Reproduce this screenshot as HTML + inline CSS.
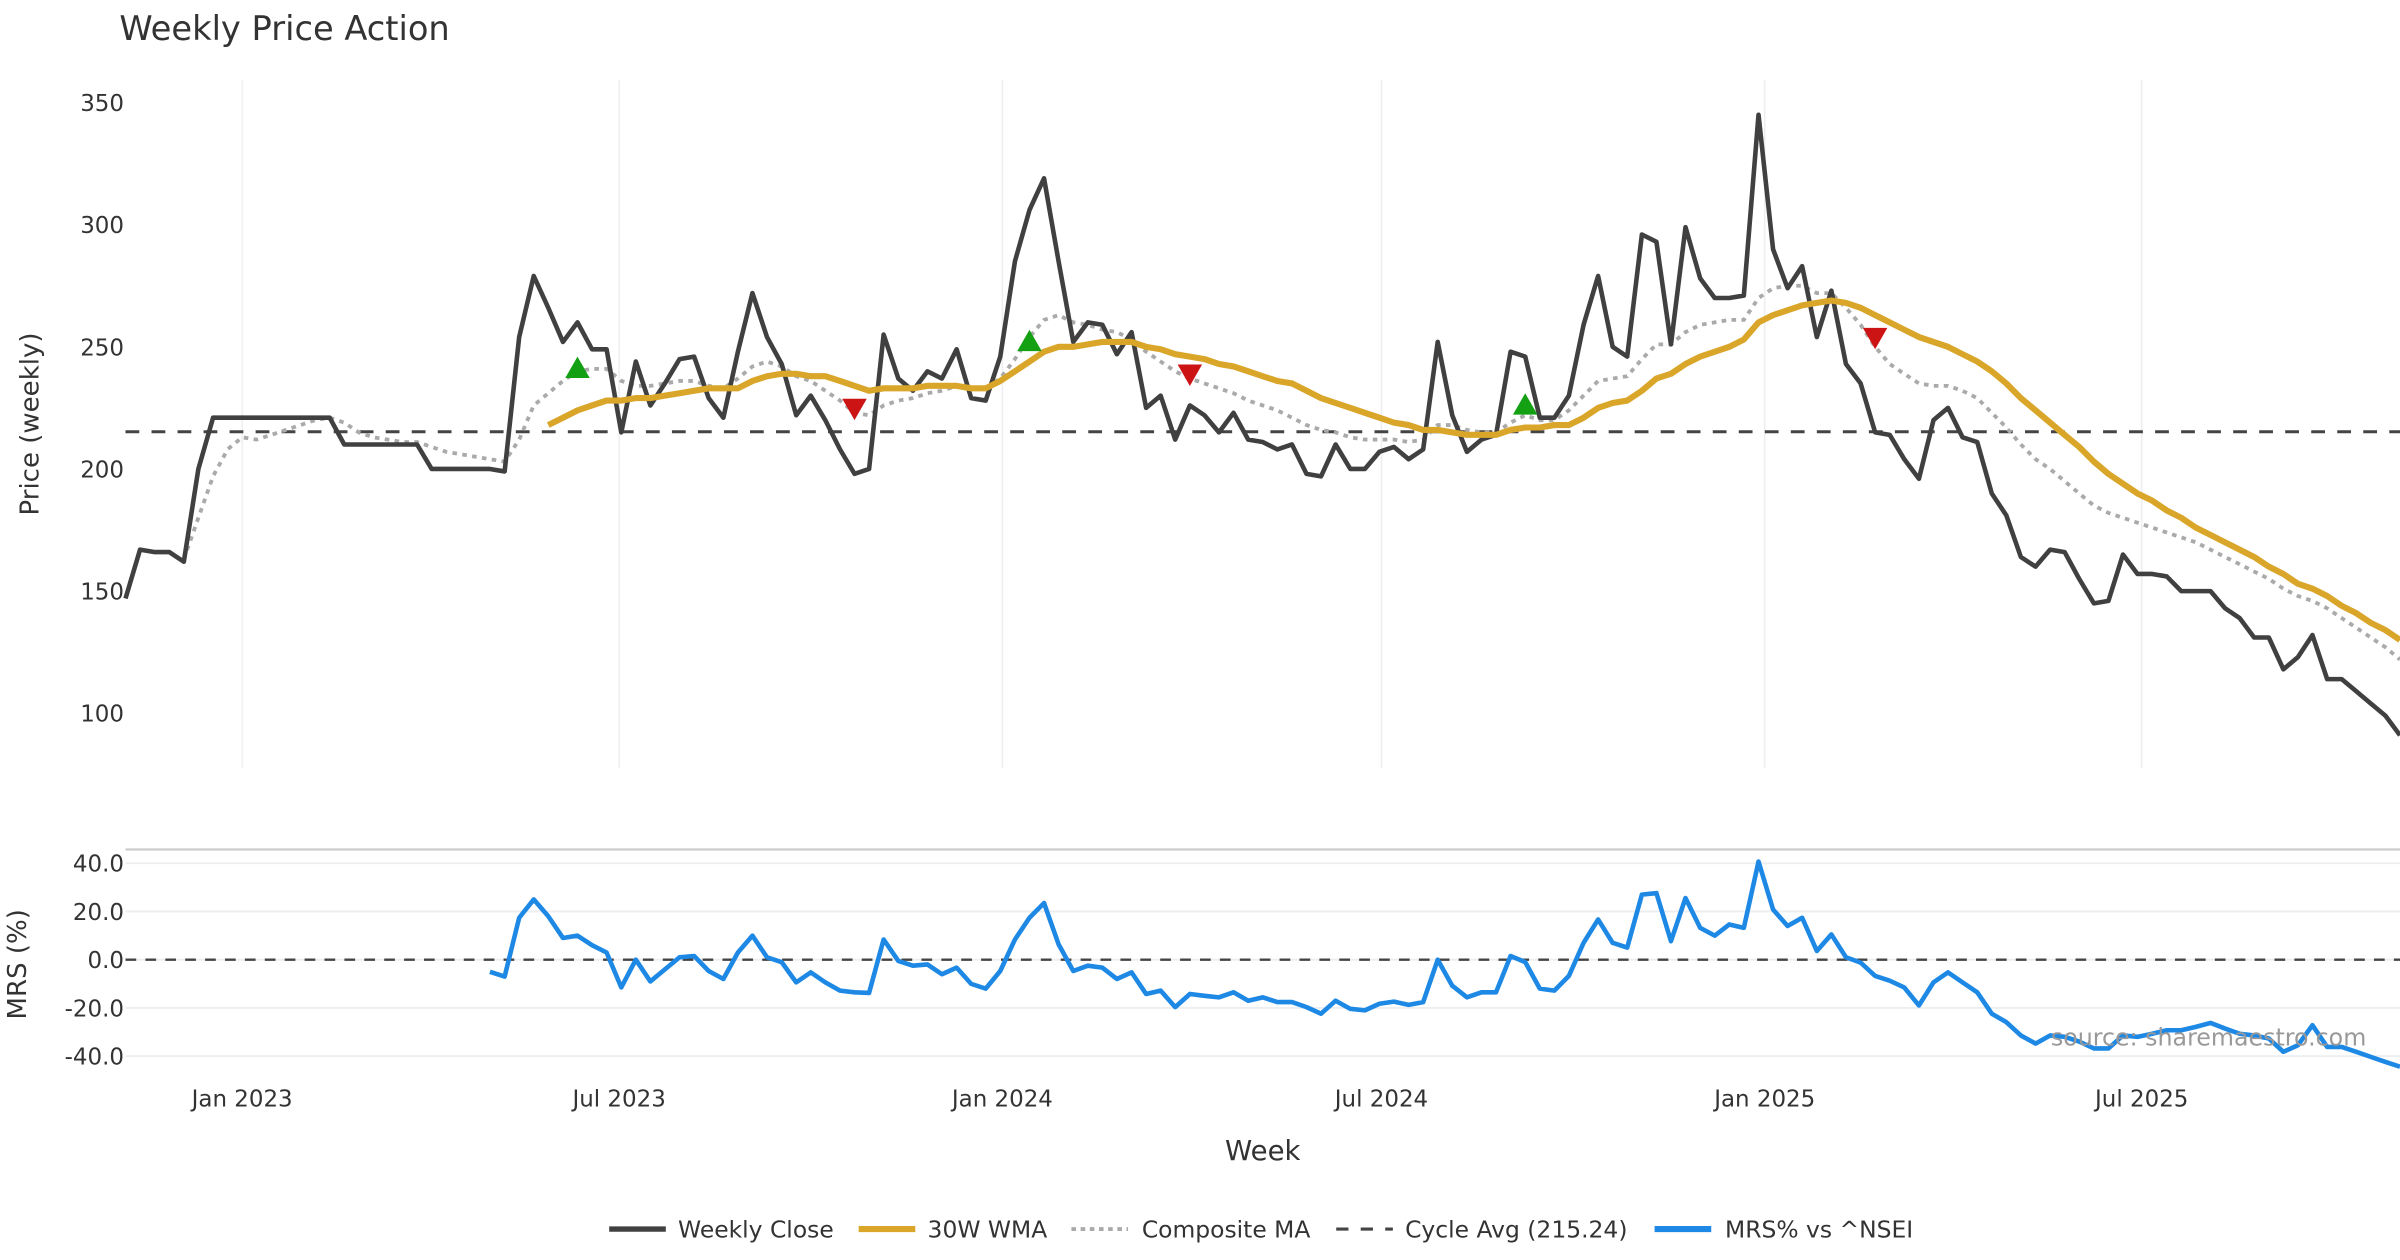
<!DOCTYPE html>
<html><head><meta charset="utf-8"><style>
html,body{margin:0;padding:0;background:#fff;}
svg{display:block;font-family:"DejaVu Sans","Liberation Sans",sans-serif;}
</style></head><body>
<svg id="chart" width="2400" height="1260" viewBox="0 0 1568 823.2" preserveAspectRatio="none" xmlns="http://www.w3.org/2000/svg">
<rect x="0" y="0" width="1568" height="823.2" fill="#fff"/>
<text x="78" y="26" font-size="22" fill="#333">Weekly Price Action</text>
<g id="grid"></g>
<g id="series"></g>
<g id="axes"></g>
<text x="0" y="0" font-size="17" fill="#333" text-anchor="middle" transform="translate(25,277) rotate(-90)">Price (weekly)</text>
<text x="0" y="0" font-size="17" fill="#333" text-anchor="middle" transform="translate(17,630) rotate(-90)">MRS (%)</text>
<text x="825" y="758" font-size="18" fill="#333" text-anchor="middle">Week</text>
<text x="1546" y="683" font-size="15.5" fill="#999" text-anchor="end">source: sharemaestro.com</text>
<g id="legend">
  <g><line x1="398" y1="803" x2="435" y2="803" stroke="#404040" stroke-width="3.5"/><text x="443" y="808.5" font-size="15.3" fill="#333">Weekly Close</text></g>
  <g><line x1="561" y1="803" x2="598" y2="803" stroke="#D9A62A" stroke-width="4"/><text x="606" y="808.5" font-size="15.3" fill="#333">30W WMA</text></g>
  <g><line x1="700" y1="803" x2="737" y2="803" stroke="#aaa" stroke-width="2.5" stroke-dasharray="3,3"/><text x="746" y="808.5" font-size="15.3" fill="#333">Composite MA</text></g>
  <g><line x1="873" y1="803" x2="910" y2="803" stroke="#444" stroke-width="2" stroke-dasharray="8,8"/><text x="918" y="808.5" font-size="15.3" fill="#333">Cycle Avg (215.24)</text></g>
  <g><line x1="1081" y1="803" x2="1118" y2="803" stroke="#1E88E5" stroke-width="4"/><text x="1127" y="808.5" font-size="15.3" fill="#333">MRS% vs ^NSEI</text></g>
</g>
</svg>
<script>
const weeklyClose=[147,167,166,166,162,200,221,221,221,221,221,221,221,221,221,210,210,210,210,210,210,200,200,200,200,200,199,254,279,266,252,260,249,249,215,244,226,235,245,246,229,221,248,272,254,243,222,230,220,208,198,200,255,237,232,240,237,249,229,228,246,285,306,319,285,252,260,259,247,256,225,230,212,226,222,215,223,212,211,208,210,198,197,210,200,200,207,209,204,208,252,222,207,212,214,248,246,221,221,230,259,279,250,246,296,293,251,299,278,270,270,271,345,290,274,283,254,273,243,235,215,214,204,196,220,225,213,211,190,181,164,160,167,166,155,145,146,165,157,157,156,150,150,150,143,139,131,131,118,123,132,114,114,109,104,99,91];
const wmaStart=29;
const wma30=[218,221,224,226,228,228,229,229,230,231,232,233,233,233,236,238,239,239,238,238,236,234,232,233,233,233,234,234,234,233,233,236,240,244,248,250,250,251,252,252,252,250,249,247,246,245,243,242,240,238,236,235,232,229,227,225,223,221,219,218,216,216,215,214,214,214,216,217,217,218,218,221,225,227,228,232,237,239,243,246,248,250,253,260,263,265,267,268,269,268,266,263,260,257,254,252,250,247,244,240,235,229,224,219,214,209,203,198,194,190,187,183,180,176,173,170,167,164,160,157,153,151,148,144,141,137,134,130];
const compStart=4;
const compositeMA=[163,180,197,208,213,212,214,216,218,220,221,219,215,213,212,211,211,209,207,206,205,204,203,212,226,231,236,240,241,241,236,234,234,235,236,236,234,233,237,242,244,242,238,236,232,228,223,222,226,228,229,231,232,234,233,233,237,245,254,261,263,260,259,257,256,253,248,244,240,237,235,233,231,228,226,224,221,218,216,215,213,212,212,212,211,212,218,218,216,215,215,219,222,220,220,224,230,236,237,238,245,251,251,256,259,260,261,261,270,274,275,275,272,272,266,259,250,243,239,235,234,234,232,229,223,217,210,204,200,195,190,185,182,180,178,176,174,172,170,167,164,161,158,155,151,148,146,143,139,135,131,127,122];
const cycleAvg=215.24;
const mrsStart=25;
const mrs=[-5,-7,17.4,25,18,9,10,6,3,-11.5,0,-9,-4,1,1.5,-4.7,-8,3,10,1,-1,-9.4,-5.3,-9.4,-12.8,-13.5,-13.8,8.4,-0.5,-2.5,-2,-6,-3.3,-10,-12,-4.7,8.4,17.4,23.5,6.4,-4.7,-2.5,-3.3,-8,-5.3,-14.2,-12.8,-19.7,-14.2,-15,-15.6,-13.5,-17,-15.6,-17.6,-17.6,-19.7,-22.4,-17,-20.4,-21,-18.3,-17.4,-18.7,-17.6,0,-10.8,-15.6,-13.5,-13.5,1.5,-1,-12,-12.8,-6.7,7,16.7,7,5,27,27.6,7.7,25.6,13.2,10,14.6,13.2,40.7,20.8,14,17.4,3.6,10.5,1,-1.2,-6.7,-8.7,-11.5,-19,-9.4,-5.3,-9.4,-13.5,-22.4,-25.9,-31.4,-34.8,-31.4,-32,-34,-36.8,-36.8,-31.4,-32,-30.7,-29.3,-29.3,-27.9,-26.2,-28.6,-30.7,-31.4,-32.7,-38.2,-35.5,-27.2,-36.2,-36.2,-38.2,-40.3,-42.4,-44.4];
const buyIdx=[31,62,96];
const buyVal=[241,252,226];
const sellIdx=[50,73,120];
const sellVal=[225,239,254];
const priceTicks=[100,150,200,250,300,350];
const mrsTicks=[40,20,0,-20,-40];
const dateTickLabels=["Jan 2023","Jul 2023","Jan 2024","Jul 2024","Jan 2025","Jul 2025"];
const dateTickDates=["2023-01-01","2023-07-01","2024-01-01","2024-07-01","2025-01-01","2025-07-01"];
const startDate="2022-11-06";

const NS="http://www.w3.org/2000/svg";
const X0=82,X1=1568;
const t0=Date.parse(startDate);
const nW=weeklyClose.length-1;
const tEnd=t0+nW*7*86400000;
function xDate(ms){return X0+(ms-t0)/(tEnd-t0)*(X1-X0);}
function xIdx(i){return xDate(t0+i*7*86400000);}
function yP(v){return 466-(v-100)*(399/250);}
function yM(v){return 627-v*(126/80);}
function mk(tag,attrs,parent){const e=document.createElementNS(NS,tag);for(const k in attrs)e.setAttribute(k,attrs[k]);parent.appendChild(e);return e;}
const grid=document.getElementById('grid'),ser=document.getElementById('series'),axes=document.getElementById('axes');

dateTickDates.forEach((d,k)=>{
  const x=xDate(Date.parse(d));
  const g1=mk('line',{x1:x,y1:52,x2:x,y2:502,stroke:'#eceff2','stroke-width':1},grid);
  
  
  const t=mk('text',{x:x,y:723,'font-size':15,fill:'#333','text-anchor':'middle'},axes);
  t.textContent=dateTickLabels[k];
  
  
});
priceTicks.forEach(v=>{
  const t=mk('text',{x:81,y:yP(v)+5.5,'font-size':15,fill:'#333','text-anchor':'end'},axes);
  t.textContent=v;
  
  
});
const sep=mk('line',{x1:82,y1:555,x2:1568,y2:555,stroke:'#ccc','stroke-width':1.5},grid);


mrsTicks.forEach(v=>{
  const gl=mk('line',{x1:82,y1:yM(v),x2:1568,y2:yM(v),stroke:'#eceef0','stroke-width':1.2},grid);
  
  
  const t=mk('text',{x:81,y:yM(v)+5.5,'font-size':15,fill:'#333','text-anchor':'end'},axes);
  t.textContent=v.toFixed(1);
  
  
});
const cyc=mk('line',{x1:82,y1:yP(cycleAvg),x2:1568,y2:yP(cycleAvg),stroke:'#444','stroke-width':2,'stroke-dasharray':'9,8'},ser);


const zl=mk('line',{x1:82,y1:yM(0),x2:1568,y2:yM(0),stroke:'#444','stroke-width':1.5,'stroke-dasharray':'7,6'},ser);



function pts(arr,start,yf){return arr.map((v,i)=>xIdx(start+i).toFixed(1)+','+yf(v).toFixed(1)).join(' ');}
const comp=mk('polyline',{points:pts(compositeMA,compStart,yP),fill:'none',stroke:'#aaa','stroke-width':2.5,'stroke-dasharray':'3,3.5'},ser);


const cl=mk('polyline',{points:pts(weeklyClose,0,yP),fill:'none',stroke:'#404040','stroke-width':3,'stroke-linejoin':'round'},ser);


const wl=mk('polyline',{points:pts(wma30,wmaStart,yP),fill:'none',stroke:'#D9A62A','stroke-width':4,'stroke-linejoin':'round'},ser);


const ml=mk('polyline',{points:pts(mrs,mrsStart,yM),fill:'none',stroke:'#1E88E5','stroke-width':3,'stroke-linejoin':'round'},ser);



buyIdx.forEach((ix,k)=>{
  const x=xIdx(ix),y=yP(buyVal[k]);
  const p=mk('polygon',{points:`${x-8},${y+6} ${x+8},${y+6} ${x},${y-8}`,fill:'#13a013'},ser);
  
  
});
sellIdx.forEach((ix,k)=>{
  const x=xIdx(ix),y=yP(sellVal[k]);
  const p=mk('polygon',{points:`${x-8},${y-6} ${x+8},${y-6} ${x},${y+8}`,fill:'#cc1414'},ser);
  
  
});
</script>
</body></html>
